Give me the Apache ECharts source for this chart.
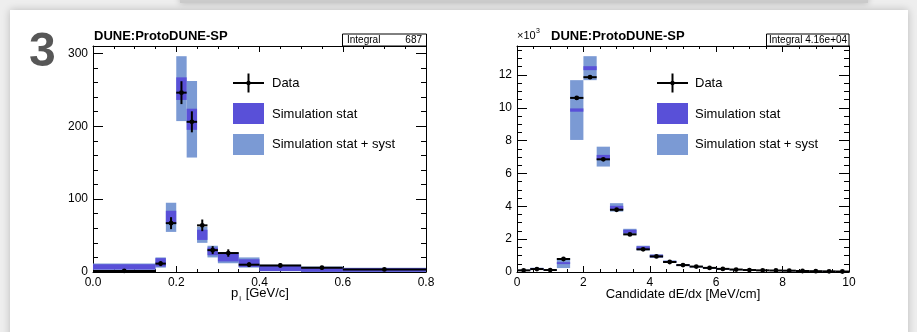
<!DOCTYPE html>
<html>
<head>
<meta charset="utf-8">
<script src="https://cdn.jsdelivr.net/npm/echarts@6/dist/echarts.min.js"></script>
<style>
html,body{margin:0;padding:0;background:#efefef;}
#c{width:917px;height:332px;}
</style>
</head>
<body>
<div id="c"></div>
<script>
// ---------- Left histogram: p_i [GeV/c] ----------
const leftEdges  = [0, 0.15, 0.175, 0.2, 0.225, 0.25, 0.275, 0.3, 0.35, 0.4, 0.5, 0.6, 0.8];
const leftSystLo = [3, 6, 55, 207, 157, 40, 20, 12, 6, 1, 0, 0];
const leftSystHi = [11.5, 20, 95, 296, 262, 62, 36, 27, 20, 10, 7.5, 6];
const leftStatLo = [3.5, 7.5, 66, 236, 195, 44, 23, 14.5, 7, 1.5, 0.5, 0.5];
const leftStatHi = [10.5, 19, 84, 267, 224, 58, 33.5, 25.5, 17.5, 9, 7, 5.5];
const leftData   = [1.5, 11.5, 67, 246, 206, 64, 30, 26, 10, 9, 6, 3.5];
const leftErr    = [1.2, 3.4, 8.2, 15.7, 14.4, 8, 5.5, 5.1, 3.2, 3, 2.4, 1.9];
const leftXTicks = [0, 0.2, 0.4, 0.6, 0.8];
const leftYTicks = [0, 100, 200, 300];

// ---------- Right histogram: Candidate dE/dx [MeV/cm] (values in 10^3) ----------
const rightEdges  = [0, 0.4, 0.8, 1.2, 1.6, 2.0, 2.4, 2.8, 3.2, 3.6, 4.0, 4.4, 4.8, 5.2, 5.6, 6.0, 6.4, 6.8, 7.2, 7.6, 8.0, 8.4, 8.8, 9.2, 9.6, 10.0];
const rightSystLo = [0.06, 0.12, 0.08, 0.24, 8.04, 11.68, 6.42, 3.68, 2.27, 1.32, 0.87, 0.55, 0.36, 0.28, 0.20, 0.15, 0.11, 0.09, 0.07, 0.06, 0.05, 0.04, 0.03, 0.02, 0.02];
const rightSystHi = [0.14, 0.26, 0.15, 0.85, 11.68, 13.14, 7.63, 4.19, 2.63, 1.60, 1.07, 0.70, 0.47, 0.37, 0.28, 0.21, 0.16, 0.13, 0.11, 0.09, 0.08, 0.06, 0.05, 0.04, 0.03];
const rightStatLo = [0.08, 0.15, 0.09, 0.48, 9.76, 12.29, 6.82, 3.79, 2.37, 1.36, 0.89, 0.57, 0.38, 0.30, 0.22, 0.16, 0.12, 0.10, 0.08, 0.07, 0.06, 0.045, 0.035, 0.025, 0.02];
const rightStatHi = [0.12, 0.23, 0.13, 0.60, 9.96, 12.53, 7.13, 4.03, 2.57, 1.56, 1.05, 0.68, 0.45, 0.35, 0.26, 0.20, 0.15, 0.12, 0.10, 0.085, 0.075, 0.055, 0.045, 0.035, 0.028];
const rightData   = [0.10, 0.18, 0.12, 0.79, 10.6, 11.86, 6.86, 3.79, 2.29, 1.38, 0.95, 0.61, 0.42, 0.33, 0.25, 0.19, 0.15, 0.12, 0.10, 0.09, 0.08, 0.06, 0.05, 0.04, 0.03];
const rightErr    = [0.010, 0.013, 0.011, 0.028, 0.103, 0.109, 0.083, 0.062, 0.048, 0.037, 0.031, 0.025, 0.020, 0.018, 0.016, 0.014, 0.012, 0.011, 0.010, 0.009, 0.009, 0.008, 0.007, 0.006, 0.005];
const rightXTicks = [0, 2, 4, 6, 8, 10];
const rightYTicks = [0, 2, 4, 6, 8, 10, 12];

const FONT = "'Liberation Sans', Arial, Helvetica, sans-serif";
const PURPLE = '#5950d8';
const LIGHT = '#7b9ad4';

function bandData(edges, lo, hi) {
  return lo.map((v, i) => [edges[i], edges[i + 1], v, hi[i]]);
}
function pointData(edges, vals, errs) {
  return vals.map((v, i) => [edges[i], edges[i + 1], (edges[i] + edges[i + 1]) / 2, v, errs[i]]);
}
function bandRender(color) {
  return function (params, api) {
    const p0 = api.coord([api.value(0), api.value(3)]);
    const p1 = api.coord([api.value(1), api.value(2)]);
    return { type: 'rect', shape: { x: p0[0], y: p0[1], width: p1[0] - p0[0], height: p1[1] - p0[1] }, style: { fill: color } };
  };
}
function pointRender(params, api) {
  const x0 = api.value(0), x1 = api.value(1), xc = api.value(2), y = api.value(3), e = api.value(4);
  const a = api.coord([x0, y]), b = api.coord([x1, y]);
  const c = api.coord([xc, y - e]), d = api.coord([xc, y + e]);
  const m = api.coord([xc, y]);
  return {
    type: 'group',
    children: [
      { type: 'line', shape: { x1: a[0], y1: a[1], x2: b[0], y2: b[1] }, style: { stroke: '#000', lineWidth: 2 } },
      { type: 'line', shape: { x1: c[0], y1: c[1], x2: d[0], y2: d[1] }, style: { stroke: '#000', lineWidth: 2 } },
      { type: 'circle', shape: { cx: m[0], cy: m[1], r: 2.4 }, style: { fill: '#000' } }
    ]
  };
}

// frame axis (major ticks, optional labels) + minor-tick axis, both with inward ticks
function axisPair(gridIndex, pos, min, max, interval, minorInterval, majorLen, minorLen, labelOpt) {
  const major = {
    gridIndex, type: 'value', position: pos, min, max, interval,
    axisLine: { show: true, onZero: false, lineStyle: { color: '#000', width: 1 } },
    axisTick: { show: true, inside: true, length: majorLen, lineStyle: { color: '#000' } },
    axisLabel: labelOpt || { show: false },
    splitLine: { show: false }
  };
  const minor = {
    gridIndex, type: 'value', position: pos, min, max, interval: minorInterval,
    axisLine: { show: false, onZero: false },
    axisTick: { show: true, inside: true, length: minorLen, lineStyle: { color: '#000' } },
    axisLabel: { show: false },
    splitLine: { show: false }
  };
  return [major, minor];
}
function labelStyle(ticks, fmt, margin) {
  return { show: true, margin: margin, color: '#000', fontSize: 12, fontFamily: FONT,
    formatter: v => ticks.some(t => Math.abs(t - v) < 1e-9) ? fmt(v) : '' };
}

const chart = echarts.init(document.getElementById('c'));

function legend(x0, textX) {
  return [
    { type: 'line', shape: { x1: x0, y1: 83, x2: x0 + 31, y2: 83 }, style: { stroke: '#000', lineWidth: 2 }, z: 10 },
    { type: 'line', shape: { x1: x0 + 15.5, y1: 73.5, x2: x0 + 15.5, y2: 92.5 }, style: { stroke: '#000', lineWidth: 2 }, z: 10 },
    { type: 'circle', shape: { cx: x0 + 15.5, cy: 83, r: 2.2 }, style: { fill: '#000' }, z: 10 },
    { type: 'rect', shape: { x: x0, y: 103, width: 31, height: 21 }, style: { fill: PURPLE }, z: 10 },
    { type: 'rect', shape: { x: x0, y: 134, width: 31, height: 21 }, style: { fill: LIGHT }, z: 10 },
    { type: 'text', x: textX, y: 83, style: { text: 'Data', font: '13px ' + FONT, fill: '#000', verticalAlign: 'middle' }, z: 10 },
    { type: 'text', x: textX, y: 114, style: { text: 'Simulation stat', font: '13px ' + FONT, fill: '#000', verticalAlign: 'middle' }, z: 10 },
    { type: 'text', x: textX, y: 144.5, style: { text: 'Simulation stat + syst', font: '13px ' + FONT, fill: '#000', verticalAlign: 'middle' }, z: 10 }
  ];
}

// x axes: indices 0-3 for left grid, 4-7 for right grid
const xAxisList = [].concat(
  axisPair(0, 'bottom', 0, 0.8, 0.2, 0.05, 6, 3, labelStyle(leftXTicks, v => v.toFixed(1), 5)),
  axisPair(0, 'top', 0, 0.8, 0.2, 0.05, 6, 3),
  axisPair(1, 'bottom', 0, 10, 2, 0.5, 6, 3, labelStyle(rightXTicks, v => String(v), 5)),
  axisPair(1, 'top', 0, 10, 2, 0.5, 6, 3)
);
// y axes: indices 0-3 for left grid, 4-7 for right grid
const yAxisList = [].concat(
  axisPair(0, 'left', 0, 310, 100, 20, 10, 5, labelStyle(leftYTicks, v => String(v), 5)),
  axisPair(0, 'right', 0, 310, 100, 20, 10, 5),
  axisPair(1, 'left', 0, 13.76, 2, 0.5, 10, 5, labelStyle(rightYTicks, v => String(v), 5)),
  axisPair(1, 'right', 0, 13.76, 2, 0.5, 10, 5)
);

const option = {
  animation: false,
  backgroundColor: '#eeeeee',
  grid: [
    { left: 93, top: 46, width: 333, height: 226 },
    { left: 517, top: 46, width: 332, height: 226 }
  ],
  xAxis: xAxisList,
  yAxis: yAxisList,
  graphic: {
    elements: [
      { type: 'rect', shape: { x: 180, y: -6, width: 688, height: 9 }, style: { fill: '#cbcbcb', shadowBlur: 6, shadowColor: 'rgba(0,0,0,0.25)' }, z: -20 },
      { type: 'rect', shape: { x: 10, y: 10, width: 898, height: 340 }, style: { fill: '#ffffff', shadowBlur: 8, shadowColor: 'rgba(0,0,0,0.22)' }, z: -10 },
      { type: 'text', x: 29, y: 53, style: { text: '3', font: 'bold 48px ' + FONT, fill: '#575757', verticalAlign: 'middle' }, z: 10 },
      { type: 'text', x: 94, y: 36, style: { text: 'DUNE:ProtoDUNE-SP', font: 'bold 13px ' + FONT, fill: '#000', verticalAlign: 'middle' }, z: 10 },
      { type: 'text', x: 551, y: 36, style: { text: 'DUNE:ProtoDUNE-SP', font: 'bold 13px ' + FONT, fill: '#000', verticalAlign: 'middle' }, z: 10 },
      { type: 'text', x: 517, y: 36, style: { text: '×10', font: '11px ' + FONT, fill: '#000', verticalAlign: 'middle' }, z: 10 },
      { type: 'text', x: 536, y: 31, style: { text: '3', font: '7px ' + FONT, fill: '#000', verticalAlign: 'middle' }, z: 10 },
      { type: 'rect', shape: { x: 342.5, y: 34, width: 84, height: 12 }, style: { fill: '#fff', stroke: '#000', lineWidth: 1 }, z: 10 },
      { type: 'text', x: 347, y: 40.5, style: { text: 'Integral', font: '10px ' + FONT, fill: '#000', verticalAlign: 'middle' }, z: 11 },
      { type: 'text', x: 422, y: 40.5, style: { text: '687', font: '10px ' + FONT, fill: '#000', verticalAlign: 'middle', align: 'right' }, z: 11 },
      { type: 'rect', shape: { x: 766.5, y: 34, width: 82.5, height: 12 }, style: { fill: '#fff', stroke: '#000', lineWidth: 1 }, z: 10 },
      { type: 'text', x: 769, y: 40.5, style: { text: 'Integral 4.16e+04', font: '10px ' + FONT, fill: '#000', verticalAlign: 'middle' }, z: 11 },
      // axis titles
      { type: 'text', x: 260, y: 293, style: {
          text: '{p|p}{s|i}{p| [GeV/c]}', align: 'center', verticalAlign: 'middle',
          rich: { p: { font: '13px ' + FONT, fill: '#000' }, s: { font: '8px ' + FONT, fill: '#000', padding: [12, 1, 0, 1] } }
        }, z: 10 },
      { type: 'text', x: 683, y: 294, style: { text: 'Candidate dE/dx [MeV/cm]', font: '13px ' + FONT, fill: '#000', align: 'center', verticalAlign: 'middle' }, z: 10 }
    ].concat(legend(233, 272), legend(657, 695))
  },
  series: [
    { type: 'custom', xAxisIndex: 0, yAxisIndex: 0, renderItem: bandRender(LIGHT), encode: { x: [0, 1], y: [2, 3] }, data: bandData(leftEdges, leftSystLo, leftSystHi), z: 2 },
    { type: 'custom', xAxisIndex: 0, yAxisIndex: 0, renderItem: bandRender(PURPLE), encode: { x: [0, 1], y: [2, 3] }, data: bandData(leftEdges, leftStatLo, leftStatHi), z: 3 },
    { type: 'custom', xAxisIndex: 0, yAxisIndex: 0, renderItem: pointRender, encode: { x: [0, 1], y: 3 }, data: pointData(leftEdges, leftData, leftErr), z: 4 },
    { type: 'custom', xAxisIndex: 4, yAxisIndex: 4, renderItem: bandRender(LIGHT), encode: { x: [0, 1], y: [2, 3] }, data: bandData(rightEdges, rightSystLo, rightSystHi), z: 2 },
    { type: 'custom', xAxisIndex: 4, yAxisIndex: 4, renderItem: bandRender(PURPLE), encode: { x: [0, 1], y: [2, 3] }, data: bandData(rightEdges, rightStatLo, rightStatHi), z: 3 },
    { type: 'custom', xAxisIndex: 4, yAxisIndex: 4, renderItem: pointRender, encode: { x: [0, 1], y: 3 }, data: pointData(rightEdges, rightData, rightErr), z: 4 }
  ]
};
chart.setOption(option);
</script>
</body>
</html>
